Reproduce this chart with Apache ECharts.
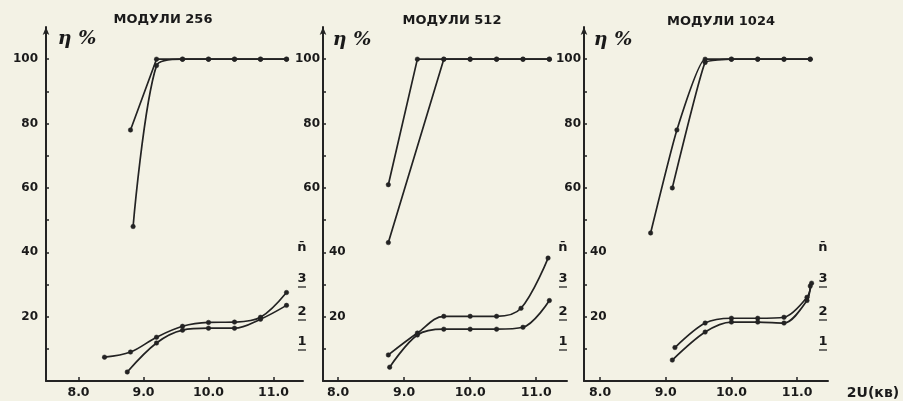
<!DOCTYPE html>
<html>
<head>
<meta charset="utf-8">
<script src="https://cdn.jsdelivr.net/npm/echarts@6/dist/echarts.min.js"></script>
<style>
  html, body { margin: 0; padding: 0; background: #f3f2e5; }
  #chart { width: 903px; height: 401px; }
</style>
</head>
<body>
<div id="chart"></div>
<script>
// ---- tick labels / texts ----
const xTickValues = [8, 9, 10, 11];
const yTickValues = [10, 20, 30, 40, 50, 60, 70, 80, 90, 100];
const yLabelsAll = [20, 40, 60, 80, 100];
const yLabelsUpper = [60, 80, 100];
const yLabelsLower = [20, 40];
const panelTitles = ['МОДУЛИ 256', 'МОДУЛИ 512', 'МОДУЛИ 1024'];
const yAxisName = 'η %';
const xAxisName = '2U(кв)';
const nLabels = ['n̄', '3', '2', '1'];

// ---- panel 1 (256) ----
const p1EffA_x = [8.8, 9.2, 9.6, 10.0, 10.4, 10.8, 11.2];
const p1EffA_y = [78, 100, 100, 100, 100, 100, 100];
const p1EffB_x = [8.84, 9.2, 9.6, 10.0, 10.4, 10.8, 11.2];
const p1EffB_y = [48, 98, 100, 100, 100, 100, 100];
const p1NA_x = [8.4, 8.8, 9.2, 9.6, 10.0, 10.4, 10.8, 11.2];
const p1NA_y = [7.4, 9.0, 13.6, 17.0, 18.2, 18.3, 19.8, 27.5];
const p1NB_x = [8.75, 9.2, 9.6, 10.0, 10.4, 10.8, 11.2];
const p1NB_y = [2.8, 11.8, 15.8, 16.4, 16.4, 19.2, 23.5];

// ---- panel 2 (512) ----
const p2EffA_x = [8.76, 9.2, 9.6, 10.0, 10.4, 10.8, 11.2];
const p2EffA_y = [61, 100, 100, 100, 100, 100, 100];
const p2EffB_x = [8.76, 9.6, 10.0, 10.4, 10.8, 11.2];
const p2EffB_y = [43, 100, 100, 100, 100, 100];
const p2NA_x = [8.76, 9.2, 9.6, 10.0, 10.4, 10.77, 11.18];
const p2NA_y = [8.1, 14.9, 20.1, 20.1, 20.1, 22.6, 38.2];
const p2NB_x = [8.78, 9.2, 9.6, 10.0, 10.4, 10.8, 11.2];
const p2NB_y = [4.3, 14.3, 16.1, 16.1, 16.1, 16.7, 25.0];

// ---- panel 3 (1024) ----
const p3EffA_x = [8.77, 9.17, 9.6, 10.0, 10.4, 10.8, 11.2];
const p3EffA_y = [46, 78, 100, 100, 100, 100, 100];
const p3EffB_x = [9.1, 9.6, 10.0, 10.4, 10.8, 11.2];
const p3EffB_y = [60, 99, 100, 100, 100, 100];
const p3NA_x = [9.14, 9.6, 10.0, 10.4, 10.8, 11.15, 11.22];
const p3NA_y = [10.4, 18.0, 19.5, 19.5, 19.8, 26.0, 30.4];
const p3NB_x = [9.1, 9.6, 10.0, 10.4, 10.8, 11.15, 11.2];
const p3NB_y = [6.5, 15.2, 18.3, 18.3, 18.0, 25.0, 29.5];

// ---- layout ----
const INK = '#232323';
const grids = [
  { left: 46, top: 27, width: 257, height: 354 },
  { left: 323, top: 27, width: 244, height: 354 },
  { left: 584, top: 27, width: 244, height: 354 }
];
const xMin = [7.5, 7.77, 7.756];
const xMax = [7.5 + 257 / 65, 7.77 + 244 / 66, 7.756 + 244 / 65.7];

function zip(xs, ys) { return xs.map((x, i) => [x, ys[i]]); }

const labelFont = { fontFamily: 'DejaVu Sans', fontWeight: 'bold', color: '#1a1a1a' };

const xAxes = grids.map((g, i) => ({
  type: 'value', gridIndex: i, min: xMin[i], max: xMax[i],
  axisLine: { show: true, onZero: false, lineStyle: { color: INK, width: 2 } },
  axisTick: { show: true, inside: true, length: 4, customValues: xTickValues, lineStyle: { color: INK, width: 1.5 } },
  axisLabel: Object.assign({ customValues: xTickValues, formatter: v => v.toFixed(1), fontSize: 12.5, margin: 5 }, labelFont),
  splitLine: { show: false }
}));

const yAxes = [];
const yIdx = [];
grids.forEach((g, i) => {
  const common = {
    type: 'value', gridIndex: i, min: 0, max: 110, position: 'left', splitLine: { show: false }
  };
  yIdx.push(yAxes.length);
  yAxes.push(Object.assign({}, common, {
    axisLine: { show: true, onZero: false, lineStyle: { color: INK, width: 2 }, symbol: ['none', 'arrow'], symbolSize: [5, 8] },
    axisTick: { show: true, inside: true, length: 3, customValues: yTickValues, lineStyle: { color: INK, width: 1.5 } },
    axisLabel: Object.assign({ customValues: i === 0 ? yLabelsAll : yLabelsUpper, fontSize: 12, margin: i === 0 ? 8 : 3 }, labelFont)
  }));
  if (i > 0) {
    yAxes.push(Object.assign({}, common, {
      axisLine: { show: false }, axisTick: { show: false },
      axisLabel: Object.assign({ customValues: yLabelsLower, inside: true, fontSize: 12, margin: 6 }, labelFont)
    }));
  }
});

const seriesDefs = [
  [0, p1EffA_x, p1EffA_y, false], [0, p1EffB_x, p1EffB_y, 0.3],
  [0, p1NA_x, p1NA_y, 0.35], [0, p1NB_x, p1NB_y, 0.35],
  [1, p2EffA_x, p2EffA_y, false], [1, p2EffB_x, p2EffB_y, false],
  [1, p2NA_x, p2NA_y, 0.35], [1, p2NB_x, p2NB_y, 0.35],
  [2, p3EffA_x, p3EffA_y, 0.15], [2, p3EffB_x, p3EffB_y, 0.1],
  [2, p3NA_x, p3NA_y, 0.3], [2, p3NB_x, p3NB_y, 0.3]
];

const series = seriesDefs.map(([p, xs, ys, sm]) => ({
  type: 'line', xAxisIndex: p, yAxisIndex: yIdx[p],
  data: zip(xs, ys), smooth: sm,
  symbol: 'circle', symbolSize: 4.5, showSymbol: true,
  lineStyle: { color: INK, width: 1.7 },
  itemStyle: { color: INK, borderColor: INK, borderWidth: 0.5 },
  silent: true, animation: false
}));

// ---- free texts ----
const graphic = [];
const titlePos = [[163, 20], [452, 21], [721, 22]];
titlePos.forEach((p, i) => graphic.push({
  type: 'text', x: p[0], y: p[1],
  style: { text: panelTitles[i], fontFamily: 'DejaVu Sans', fontWeight: 'bold', fontSize: 13, fill: '#1a1a1a', align: 'center', verticalAlign: 'middle' }
}));
const etaPos = [[77, 39], [352, 40], [613, 40]];
etaPos.forEach(p => graphic.push({
  type: 'text', x: p[0], y: p[1],
  style: { text: yAxisName, fontFamily: 'DejaVu Serif', fontStyle: 'italic', fontWeight: 'bold', fontSize: 19, fill: '#1a1a1a', align: 'center', verticalAlign: 'middle' }
}));
const nPosX = [302, 563, 823];
const nPosY = [248, 279, 312, 342];
nPosX.forEach(x => nLabels.forEach((t, k) => graphic.push({
  type: 'text', x: x, y: nPosY[k],
  style: { text: t, fontFamily: 'DejaVu Sans', fontWeight: 'bold', fontSize: 13, fill: '#1a1a1a', align: 'center', verticalAlign: 'middle' }
})));
nPosX.forEach(x => [1, 2, 3].forEach(k => graphic.push({
  type: 'line', shape: { x1: x - 4, y1: nPosY[k] + 8, x2: x + 4, y2: nPosY[k] + 8 },
  style: { stroke: '#1a1a1a', lineWidth: 1.2 }
})));
graphic.push({
  type: 'text', x: 873, y: 393,
  style: { text: xAxisName, fontFamily: 'DejaVu Sans', fontWeight: 'bold', fontSize: 14, fill: '#1a1a1a', align: 'center', verticalAlign: 'middle' }
});

const chart = echarts.init(document.getElementById('chart'), null, { renderer: 'canvas' });
chart.setOption({
  backgroundColor: '#f3f2e5',
  animation: false,
  grid: grids.map(g => Object.assign({ containLabel: false }, g)),
  xAxis: xAxes,
  yAxis: yAxes,
  series: series,
  graphic: graphic
});
</script>
</body>
</html>
